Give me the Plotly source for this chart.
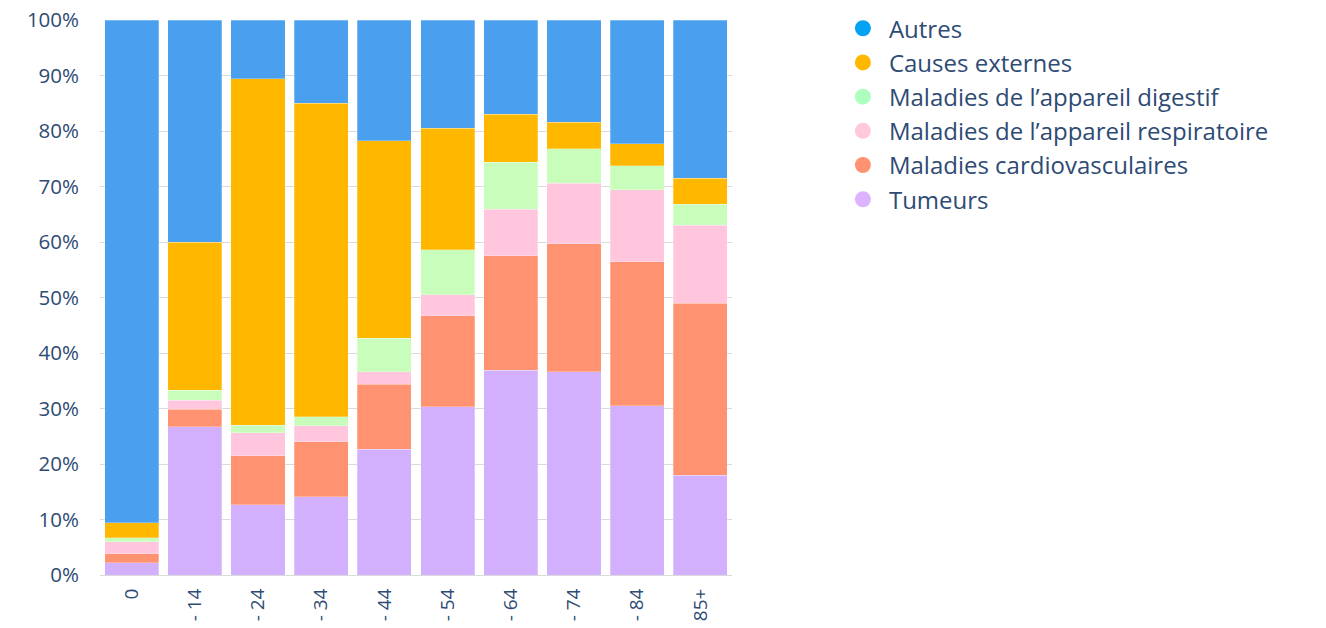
import plotly.graph_objects as go

categories = ["0", "- 14", "- 24", "- 34", "- 44", "- 54", "- 64", "- 74", "- 84", "85+"]

tumeurs = [2.2, 26.7, 12.7, 14.1, 22.7, 30.3, 36.9, 36.6, 30.5, 18.0]
cardio = [1.65, 3.2, 8.8, 9.9, 11.7, 16.4, 20.6, 23.1, 25.9, 31.0]
respiratoire = [2.15, 1.6, 4.1, 2.9, 2.2, 3.8, 8.4, 10.9, 13.0, 14.0]
digestif = [0.7, 1.8, 1.4, 1.6, 6.1, 8.1, 8.5, 6.2, 4.3, 3.8]
externes = [2.7, 26.7, 62.4, 56.5, 35.5, 21.9, 8.6, 4.8, 4.0, 4.7]
autres = [90.6, 40.0, 10.6, 15.0, 21.8, 19.5, 17.0, 18.4, 22.3, 28.5]

series = [
    ("Tumeurs", tumeurs, "#D3B0FD", "#DDB2FF"),
    ("Maladies cardiovasculaires", cardio, "#FF9270", "#FF9270"),
    ("Maladies de l\u2019appareil respiratoire", respiratoire, "#FFC6DD", "#FFC8DC"),
    ("Maladies de l\u2019appareil digestif", digestif, "#C8FDBB", "#AEFFBE"),
    ("Causes externes", externes, "#FFB700", "#FFB800"),
    ("Autres", autres, "#4A9FEE", "#04A2F2"),
]

fig = go.Figure()
for name, vals, col, legcol in series:
    fig.add_trace(go.Bar(
        x=categories, y=vals, name=name, showlegend=False,
        marker=dict(color=col, line=dict(width=0.6, color="rgba(255,255,255,0.45)")),
    ))

# legend entries (top to bottom: Autres ... Tumeurs)
for name, vals, col, legcol in reversed(series):
    fig.add_trace(go.Scatter(
        x=[None], y=[None], mode="markers", name=name,
        marker=dict(color=legcol, size=16, symbol="circle"),
    ))

font_col = "#2E4B74"
fig.update_layout(
    barmode="stack",
    bargap=0.145,
    width=1326, height=628,
    margin=dict(l=100, r=594, t=20, b=53, autoexpand=False),
    plot_bgcolor="white", paper_bgcolor="white",
    font=dict(family="Open Sans", color=font_col, size=19),
    legend=dict(
        x=1.166, y=1.025, xanchor="left", yanchor="top",
        traceorder="normal", itemsizing="trace",
        font=dict(size=24, color=font_col, weight=500),
        tracegroupgap=0, itemwidth=42,
    ),
    showlegend=True,
)
fig.update_yaxes(
    range=[0, 100], tickvals=list(range(0, 101, 10)),
    ticktext=[f"{v}%" for v in range(0, 101, 10)],
    showgrid=True, gridcolor="#DADADA", gridwidth=1,
    zeroline=False, ticks="", tickfont=dict(size=20.5, color=font_col, weight=500),
    ticklabelstandoff=20, automargin=False, ticklabeloverflow="allow",
)
fig.update_xaxes(
    tickangle=-90, showline=True, linecolor="#DADADA", linewidth=1,
    tickfont=dict(size=19, color=font_col, weight=500), ticks="",
    automargin=False, ticklabelstandoff=5, ticklabeloverflow="allow",
)

fig.write_html(
    "out.html",
    config={"displayModeBar": False},
    post_script="document.body.style.margin='0';",
)
